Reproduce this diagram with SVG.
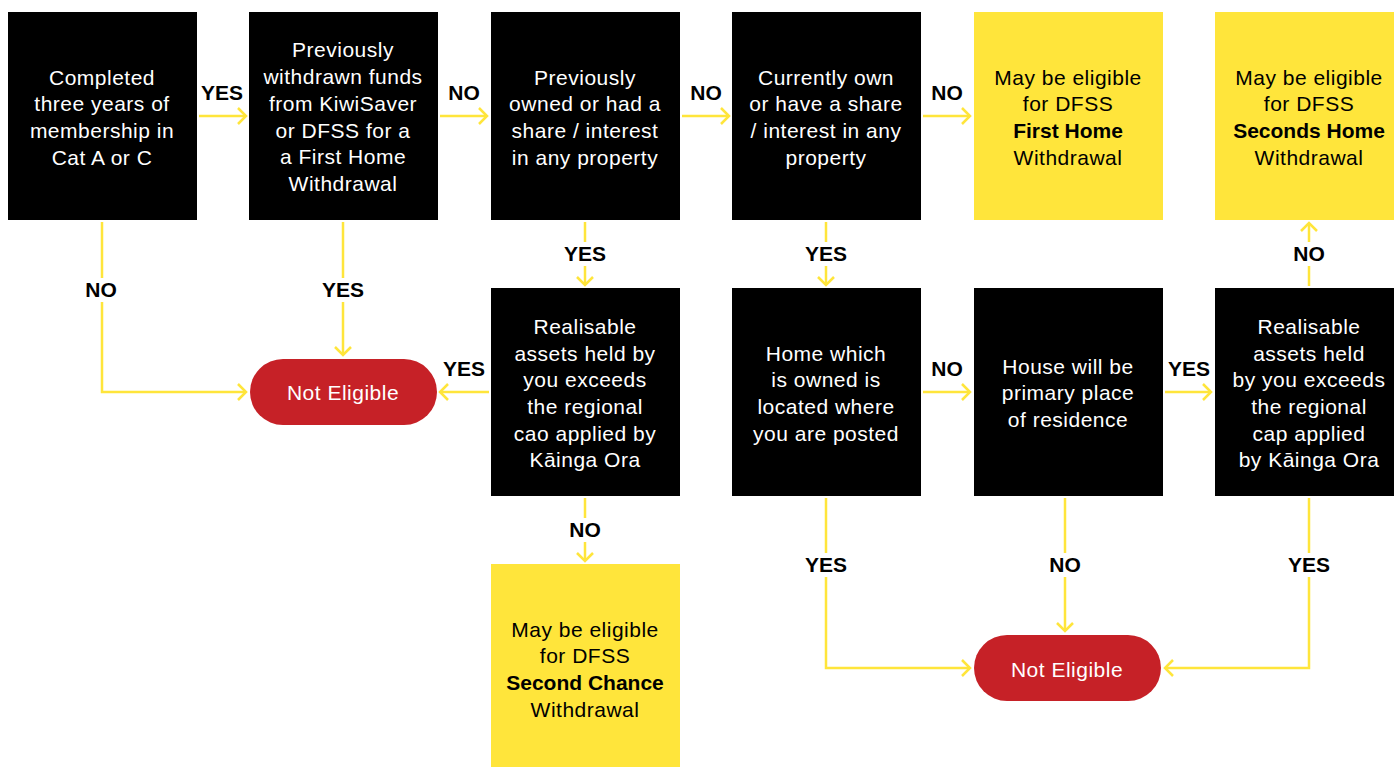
<svg xmlns="http://www.w3.org/2000/svg" width="1394" height="767" viewBox="0 0 1394 767">
<style>
.q{fill:#000}
.y{fill:#FFE53B}
.r{fill:#C62127}
.t{font-family:"Liberation Sans",Arial,sans-serif;font-size:21px;letter-spacing:0.5px;text-anchor:middle}
.w{fill:#fff}
.k{fill:#000}
.b{font-weight:bold;letter-spacing:0}
.l{font-family:"Liberation Sans",Arial,sans-serif;font-size:21px;font-weight:bold;text-anchor:middle;fill:#000}
.c{fill:none;stroke:#FFE53B;stroke-width:2.5}
</style>
<defs>
<marker id="a" markerUnits="userSpaceOnUse" viewBox="-12 -12 24 24" markerWidth="24" markerHeight="24" refX="0" refY="0" orient="auto">
<path d="M-8,-8 L0,0 L-8,8" fill="none" stroke="#FFE53B" stroke-width="2.5"/>
</marker>
</defs>
<rect width="1394" height="767" fill="#fff"/>
<g id="connectors">
<path class="c" d="M199,116 H246" marker-end="url(#a)"/>
<path class="c" d="M440,116 H487" marker-end="url(#a)"/>
<path class="c" d="M682,116 H729" marker-end="url(#a)"/>
<path class="c" d="M923,116 H970" marker-end="url(#a)"/>
<path class="c" d="M102,222 V278"/>
<path class="c" d="M102,302 V392 H246" marker-end="url(#a)"/>
<path class="c" d="M343,222 V278"/>
<path class="c" d="M343,302 V355" marker-end="url(#a)"/>
<path class="c" d="M585,222 V242"/>
<path class="c" d="M585,266 V285" marker-end="url(#a)"/>
<path class="c" d="M826,222 V242"/>
<path class="c" d="M826,266 V285" marker-end="url(#a)"/>
<path class="c" d="M489,392 H440" marker-end="url(#a)"/>
<path class="c" d="M923,392 H970" marker-end="url(#a)"/>
<path class="c" d="M1165,392 H1211" marker-end="url(#a)"/>
<path class="c" d="M1309,286 V266"/>
<path class="c" d="M1309,242 V223" marker-end="url(#a)"/>
<path class="c" d="M585,498 V518"/>
<path class="c" d="M585,542 V561" marker-end="url(#a)"/>
<path class="c" d="M826,498 V553"/>
<path class="c" d="M826,577 V668 H970" marker-end="url(#a)"/>
<path class="c" d="M1065,498 V553"/>
<path class="c" d="M1065,577 V631" marker-end="url(#a)"/>
<path class="c" d="M1309,498 V553"/>
<path class="c" d="M1309,577 V668 H1165" marker-end="url(#a)"/>
<text class="l" x="222" y="100">YES</text>
<text class="l" x="464" y="100">NO</text>
<text class="l" x="706" y="100">NO</text>
<text class="l" x="947" y="100">NO</text>
<text class="l" x="101" y="297">NO</text>
<text class="l" x="343" y="297">YES</text>
<text class="l" x="585" y="261">YES</text>
<text class="l" x="826" y="261">YES</text>
<text class="l" x="464" y="376">YES</text>
<text class="l" x="947" y="376">NO</text>
<text class="l" x="1189" y="376">YES</text>
<text class="l" x="1309" y="261">NO</text>
<text class="l" x="585" y="537">NO</text>
<text class="l" x="826" y="572">YES</text>
<text class="l" x="1065" y="572">NO</text>
<text class="l" x="1309" y="572">YES</text>
</g>
<g id="n1"><rect class="q" x="8" y="12" width="189" height="208"/>
<text class="t w"><tspan x="102" y="85">Completed</tspan><tspan x="102" y="111">three years of</tspan><tspan x="102" y="138">membership in</tspan><tspan x="102" y="165">Cat A or C</tspan></text></g>
<g id="n2"><rect class="q" x="249" y="12" width="189" height="208"/>
<text class="t w"><tspan x="343" y="57">Previously</tspan><tspan x="343" y="84">withdrawn funds</tspan><tspan x="343" y="111">from KiwiSaver</tspan><tspan x="343" y="138">or DFSS for a</tspan><tspan x="343" y="164">a First Home</tspan><tspan x="343" y="191">Withdrawal</tspan></text></g>
<g id="n3"><rect class="q" x="491" y="12" width="189" height="208"/>
<text class="t w"><tspan x="585" y="85">Previously</tspan><tspan x="585" y="111">owned or had a</tspan><tspan x="585" y="138">share / interest</tspan><tspan x="585" y="165">in any property</tspan></text></g>
<g id="n4"><rect class="q" x="732" y="12" width="189" height="208"/>
<text class="t w"><tspan x="826" y="85">Currently own</tspan><tspan x="826" y="111">or have a share</tspan><tspan x="826" y="138">/ interest in any</tspan><tspan x="826" y="165">property</tspan></text></g>
<g id="n5"><rect class="y" x="974" y="12" width="189" height="208"/>
<text class="t k"><tspan x="1068" y="85">May be eligible</tspan><tspan x="1068" y="111">for DFSS</tspan><tspan x="1068" y="138" class="b">First Home</tspan><tspan x="1068" y="165">Withdrawal</tspan></text></g>
<g id="n6"><rect class="y" x="1215" y="12" width="179" height="208"/>
<text class="t k"><tspan x="1309" y="85">May be eligible</tspan><tspan x="1309" y="111">for DFSS</tspan><tspan x="1309" y="138" class="b">Seconds Home</tspan><tspan x="1309" y="165">Withdrawal</tspan></text></g>
<g id="ne1"><rect class="r" x="250" y="359" width="187" height="66" rx="33"/>
<text class="t w" x="343" y="400">Not Eligible</text></g>
<g id="n7"><rect class="q" x="491" y="288" width="189" height="208"/>
<text class="t w"><tspan x="585" y="334">Realisable</tspan><tspan x="585" y="361">assets held by</tspan><tspan x="585" y="387">you exceeds</tspan><tspan x="585" y="414">the regional</tspan><tspan x="585" y="441">cao applied by</tspan><tspan x="585" y="467">Kāinga Ora</tspan></text></g>
<g id="n8"><rect class="q" x="732" y="288" width="189" height="208"/>
<text class="t w"><tspan x="826" y="361">Home which</tspan><tspan x="826" y="387">is owned is</tspan><tspan x="826" y="414">located where</tspan><tspan x="826" y="441">you are posted</tspan></text></g>
<g id="n9"><rect class="q" x="974" y="288" width="189" height="208"/>
<text class="t w"><tspan x="1068" y="374">House will be</tspan><tspan x="1068" y="400">primary place</tspan><tspan x="1068" y="427">of residence</tspan></text></g>
<g id="n10"><rect class="q" x="1215" y="288" width="179" height="208"/>
<text class="t w"><tspan x="1309" y="334">Realisable</tspan><tspan x="1309" y="361">assets held</tspan><tspan x="1309" y="387">by you exceeds</tspan><tspan x="1309" y="414">the regional</tspan><tspan x="1309" y="441">cap applied</tspan><tspan x="1309" y="467">by Kāinga Ora</tspan></text></g>
<g id="n11"><rect class="y" x="491" y="564" width="189" height="203"/>
<text class="t k"><tspan x="585" y="637">May be eligible</tspan><tspan x="585" y="663">for DFSS</tspan><tspan x="585" y="690" class="b">Second Chance</tspan><tspan x="585" y="717">Withdrawal</tspan></text></g>
<g id="ne2"><rect class="r" x="974" y="635" width="187" height="66" rx="33"/>
<text class="t w" x="1067" y="677">Not Eligible</text></g>
</svg>
